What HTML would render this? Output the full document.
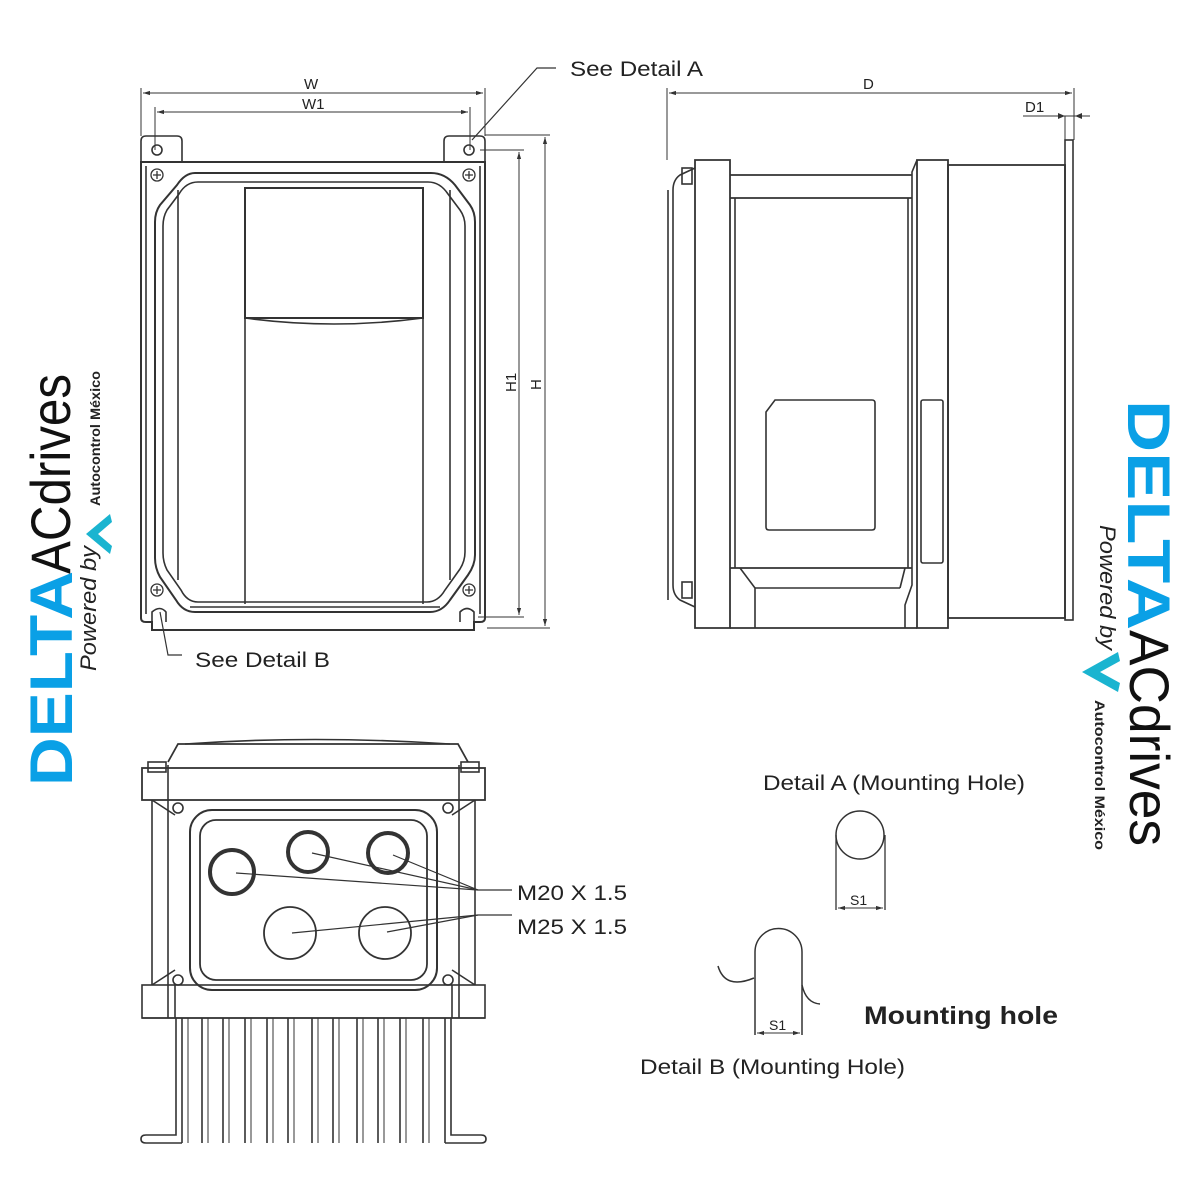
<!DOCTYPE html>
<html><head><meta charset="utf-8"><style>
html,body{margin:0;padding:0;background:#fff}
svg{display:block}
text{font-family:"Liberation Sans",sans-serif}
</style></head><body>
<svg width="1200" height="1200" viewBox="0 0 1200 1200" xmlns="http://www.w3.org/2000/svg">
<defs>
<marker id="ar" viewBox="0 0 10 10" refX="10" refY="5" markerWidth="7" markerHeight="7" orient="auto-start-reverse"><path d="M0,2 L10,5 L0,8 z" fill="#333"/></marker>
</defs>
<g fill="none" stroke="#333" stroke-width="1.6">
<!-- FRONT VIEW -->
<line x1="141" y1="88" x2="141" y2="136" stroke-width="1"/>
<line x1="485" y1="88" x2="485" y2="136" stroke-width="1"/>
<line x1="155" y1="107" x2="155" y2="150" stroke-width="1"/>
<line x1="470" y1="107" x2="470" y2="150" stroke-width="1"/>
<line x1="143" y1="93" x2="483" y2="93" stroke-width="1" marker-start="url(#ar)" marker-end="url(#ar)"/>
<line x1="157" y1="112" x2="468" y2="112" stroke-width="1" marker-start="url(#ar)" marker-end="url(#ar)"/>
<line x1="485" y1="135" x2="550" y2="135" stroke-width="1"/>
<line x1="480" y1="150" x2="524" y2="150" stroke-width="1"/>
<line x1="478" y1="617" x2="524" y2="617" stroke-width="1"/>
<line x1="487" y1="628" x2="550" y2="628" stroke-width="1"/>
<line x1="519" y1="152" x2="519" y2="615" stroke-width="1" marker-start="url(#ar)" marker-end="url(#ar)"/>
<line x1="545" y1="137" x2="545" y2="626" stroke-width="1" marker-start="url(#ar)" marker-end="url(#ar)"/>
<polyline points="472,140 537,68 556,68" stroke-width="1.2"/>
<polyline points="160,612 168,655 182,655" stroke-width="1.2"/>
<path d="M141,162 V141 Q141,136 146,136 H177 Q182,136 182,141 V162"/>
<path d="M444,162 V141 Q444,136 449,136 H480 Q485,136 485,141 V162"/>
<circle cx="157" cy="150" r="5"/><circle cx="469" cy="150" r="5"/>
<path d="M141,162 H485 V618 Q485,622 480,622 H474 V630 H152 V622 H146 Q141,622 141,618 Z" stroke-width="2"/>
<line x1="146" y1="166" x2="146" y2="614"/><line x1="480" y1="166" x2="480" y2="614"/>
<path d="M152,622 V612 Q160,605 166,612 V622" /><path d="M460,622 V612 Q467,605 474,612 V622"/>
<g stroke-width="1.3">
<circle cx="157" cy="175" r="6"/><circle cx="469" cy="175" r="6"/><circle cx="157" cy="590" r="6"/><circle cx="469" cy="590" r="6"/>
<path d="M153,175h8M157,171v8M465,175h8M469,171v8M153,590h8M157,586v8M465,590h8M469,586v8"/>
</g>
<path d="M195,173 H431 Q445,173 455,185 L470,205 Q475,212 475,222 V555 Q475,565 468,575 L450,600 Q442,612 430,612 H195 Q183,612 176,600 L160,577 Q155,568 155,558 V222 Q155,212 160,205 L177,185 Q185,173 195,173 Z" stroke-width="2"/>
<path d="M198,182 H428 Q440,182 448,194 L460,210 Q465,217 465,226 V552 Q465,561 460,569 L445,590 Q438,602 427,602 H198 Q187,602 181,590 L167,570 Q163,562 163,553 V226 Q163,217 167,210 L179,194 Q186,182 198,182 Z"/>
<line x1="178" y1="190" x2="178" y2="580"/><line x1="450" y1="190" x2="450" y2="580"/>
<rect x="245" y="188" width="178" height="130" stroke-width="2"/>
<path d="M245,318 Q334,330 423,318"/>
<line x1="245" y1="318" x2="245" y2="604"/><line x1="423" y1="318" x2="423" y2="604"/>
<line x1="190" y1="607" x2="440" y2="607"/>

<!-- SIDE VIEW -->
<line x1="667" y1="88" x2="667" y2="160" stroke-width="1"/>
<line x1="1074" y1="88" x2="1074" y2="140" stroke-width="1"/>
<line x1="669" y1="93" x2="1072" y2="93" stroke-width="1" marker-start="url(#ar)" marker-end="url(#ar)"/>
<line x1="1023" y1="116" x2="1090" y2="116" stroke-width="1"/>
<line x1="1065" y1="116" x2="1065" y2="140" stroke-width="1"/>
<path d="M1058,113 l7,3 -7,3z M1082,113 l-7,3 7,3z" fill="#333" stroke="none"/>
<rect x="1065" y="140" width="8" height="480" stroke-width="1.6"/>
<rect x="948" y="165" width="117" height="453" stroke-width="1.8"/>
<path d="M917,160 H948 V628 H917 Z" stroke-width="1.8"/>
<path d="M917,160 L912,172 V585 L905,605 V628"/>
<rect x="921" y="400" width="22" height="163" rx="2"/>
<path d="M695,160 H730 V628 H695 Z" stroke-width="1.8"/>
<path d="M695,168 L680,175 Q673,180 673,190 V585 Q673,595 680,600 L695,607"/>
<line x1="668" y1="190" x2="668" y2="600"/>
<rect x="682" y="168" width="10" height="16"/><rect x="682" y="582" width="10" height="16"/>
<line x1="730" y1="175" x2="912" y2="175" stroke-width="1.8"/>
<line x1="730" y1="198" x2="912" y2="198" stroke-width="1.8"/>
<line x1="735" y1="198" x2="735" y2="568"/>
<line x1="908" y1="198" x2="908" y2="568"/>
<line x1="730" y1="568" x2="912" y2="568" stroke-width="1.8"/>
<path d="M740,568 L755,588 V628 M905,568 L900,588"/>
<line x1="755" y1="588" x2="900" y2="588"/>
<line x1="730" y1="628" x2="917" y2="628" stroke-width="1.8"/>
<path d="M775,400 H872 Q875,400 875,403 V527 Q875,530 872,530 H769 Q766,530 766,527 V412 Z"/>

<!-- BOTTOM VIEW -->
<path d="M168,762 L178,744 H458 L468,762" stroke-width="1.8"/>
<path d="M185,744 Q313,735 450,744"/>
<rect x="142" y="768" width="343" height="32" stroke-width="1.8"/>
<rect x="148" y="762" width="18" height="10"/><rect x="461" y="762" width="18" height="10"/>
<line x1="168" y1="765" x2="168" y2="1018"/><line x1="459" y1="765" x2="459" y2="1018"/>
<line x1="152" y1="800" x2="152" y2="985"/><line x1="475" y1="800" x2="475" y2="985"/>
<path d="M152,800 L175,815 M475,800 L452,815 M152,985 L175,970 M475,985 L452,970"/>
<circle cx="178" cy="808" r="5"/><circle cx="448" cy="808" r="5"/><circle cx="178" cy="980" r="5"/><circle cx="448" cy="980" r="5"/>
<rect x="190" y="810" width="247" height="180" rx="22" stroke-width="2"/>
<rect x="200" y="820" width="227" height="160" rx="16" stroke-width="1.8"/>
<rect x="142" y="985" width="343" height="33" stroke-width="1.6"/>
<line x1="175" y1="985" x2="175" y2="1018"/><line x1="452" y1="985" x2="452" y2="1018"/>
<circle cx="232" cy="872" r="22" stroke-width="4"/>
<circle cx="308" cy="852" r="20" stroke-width="4"/>
<circle cx="388" cy="853" r="20" stroke-width="4"/>
<circle cx="290" cy="933" r="26" stroke-width="1.8"/>
<circle cx="385" cy="933" r="26" stroke-width="1.8"/>
<g stroke-width="1.2">
<line x1="236" y1="873" x2="478" y2="890"/><line x1="312" y1="853" x2="478" y2="890"/><line x1="393" y1="855" x2="478" y2="890"/>
<line x1="478" y1="890" x2="512" y2="890"/>
<line x1="292" y1="933" x2="478" y2="915"/><line x1="387" y1="932" x2="478" y2="915"/>
<line x1="478" y1="915" x2="512" y2="915"/>
</g>
<g stroke-width="1.6">
<path d="M142,1018 H485"/>
<path d="M182,1018 V1143 M202,1018 V1143 M223,1018 V1143 M245,1018 V1143 M267,1018 V1143 M288,1018 V1143 M312,1018 V1143 M333,1018 V1143 M357,1018 V1143 M378,1018 V1143 M400,1018 V1143 M423,1018 V1143 M445,1018 V1143"/>
<path d="M176,1018 V1135 H146 Q141,1135 141,1139 Q141,1143 146,1143 H182"/>
<path d="M451,1018 V1135 H481 Q486,1135 486,1139 Q486,1143 481,1143 H445"/>
<path d="M188,1018 V1143 M208,1018 V1143 M229,1018 V1143 M251,1018 V1143 M273,1018 V1143 M294,1018 V1143 M318,1018 V1143 M339,1018 V1143 M363,1018 V1143 M384,1018 V1143 M406,1018 V1143 M429,1018 V1143" stroke-width="1"/>
</g>

<!-- DETAILS -->
<circle cx="860" cy="835" r="24" stroke-width="1.5"/>
<path d="M836,835 V910 M885,835 V910" stroke-width="1.3"/>
<line x1="838" y1="908" x2="883" y2="908" stroke-width="1" marker-start="url(#ar)" marker-end="url(#ar)"/>
<path d="M755,1035 V952 A23.5,23.5 0 0 1 802,952 V1035" stroke-width="1.5"/>
<path d="M718,966 Q725,990 754,978 M802,985 Q806,1003 820,1004" stroke-width="1.5"/>
<line x1="757" y1="1033" x2="800" y2="1033" stroke-width="1" marker-start="url(#ar)" marker-end="url(#ar)"/>
</g>

<g fill="#222" font-size="21">
<text x="304" y="89" font-size="15">W</text>
<text x="302" y="109" font-size="15">W1</text>
<text x="570" y="76" textLength="133" lengthAdjust="spacingAndGlyphs">See Detail A</text>
<text x="195" y="667" textLength="135" lengthAdjust="spacingAndGlyphs">See Detail B</text>
<text x="863" y="89" font-size="15">D</text>
<text x="1025" y="112" font-size="15">D1</text>
<text transform="translate(516,392) rotate(-90)" font-size="15">H1</text>
<text transform="translate(541,390) rotate(-90)" font-size="15">H</text>
<text x="517" y="900" textLength="110" lengthAdjust="spacingAndGlyphs">M20 X 1.5</text>
<text x="517" y="934" textLength="110" lengthAdjust="spacingAndGlyphs">M25 X 1.5</text>
<text x="763" y="790" textLength="262" lengthAdjust="spacingAndGlyphs">Detail A (Mounting Hole)</text>
<text x="640" y="1074" textLength="265" lengthAdjust="spacingAndGlyphs">Detail B (Mounting Hole)</text>
<text x="864" y="1024" font-size="25" font-weight="bold" textLength="194" lengthAdjust="spacingAndGlyphs">Mounting hole</text>
<text x="850" y="905" font-size="14">S1</text>
<text x="769" y="1030" font-size="14">S1</text>
</g>

<!-- LEFT LOGO -->
<g transform="translate(72,786) rotate(-90)">
<text x="0" y="0" font-size="60" font-weight="bold" fill="#0aa0e6" textLength="215" lengthAdjust="spacingAndGlyphs">DELTA</text>
<text x="212" y="-2" font-size="56" fill="#111" textLength="200" lengthAdjust="spacingAndGlyphs">ACdrives</text>
<text x="115" y="24" font-size="22" font-style="italic" fill="#222" textLength="125" lengthAdjust="spacingAndGlyphs">Powered by</text>
<path d="M232,38 L252,14 L272,38 L264,40 L252,26 L240,40 Z" fill="#1ab4d0"/>
<text x="280" y="28" font-size="14" font-weight="bold" fill="#222" textLength="135" lengthAdjust="spacingAndGlyphs">Autocontrol México</text>
</g>

<!-- RIGHT LOGO -->
<g transform="translate(1128,400) rotate(90)">
<text x="0" y="0" font-size="60" font-weight="bold" fill="#0aa0e6" textLength="230" lengthAdjust="spacingAndGlyphs">DELTA</text>
<text x="230" y="-2" font-size="56" fill="#111" textLength="216" lengthAdjust="spacingAndGlyphs">ACdrives</text>
<text x="125" y="28" font-size="22" font-style="italic" fill="#222" textLength="125" lengthAdjust="spacingAndGlyphs">Powered by</text>
<path d="M252,10 L272,46 L292,10 L283,8 L272,28 L261,8 Z" fill="#1ab4d0"/>
<text x="300" y="33" font-size="14" font-weight="bold" fill="#222" textLength="150" lengthAdjust="spacingAndGlyphs">Autocontrol México</text>
</g>
</svg>
</body></html>
